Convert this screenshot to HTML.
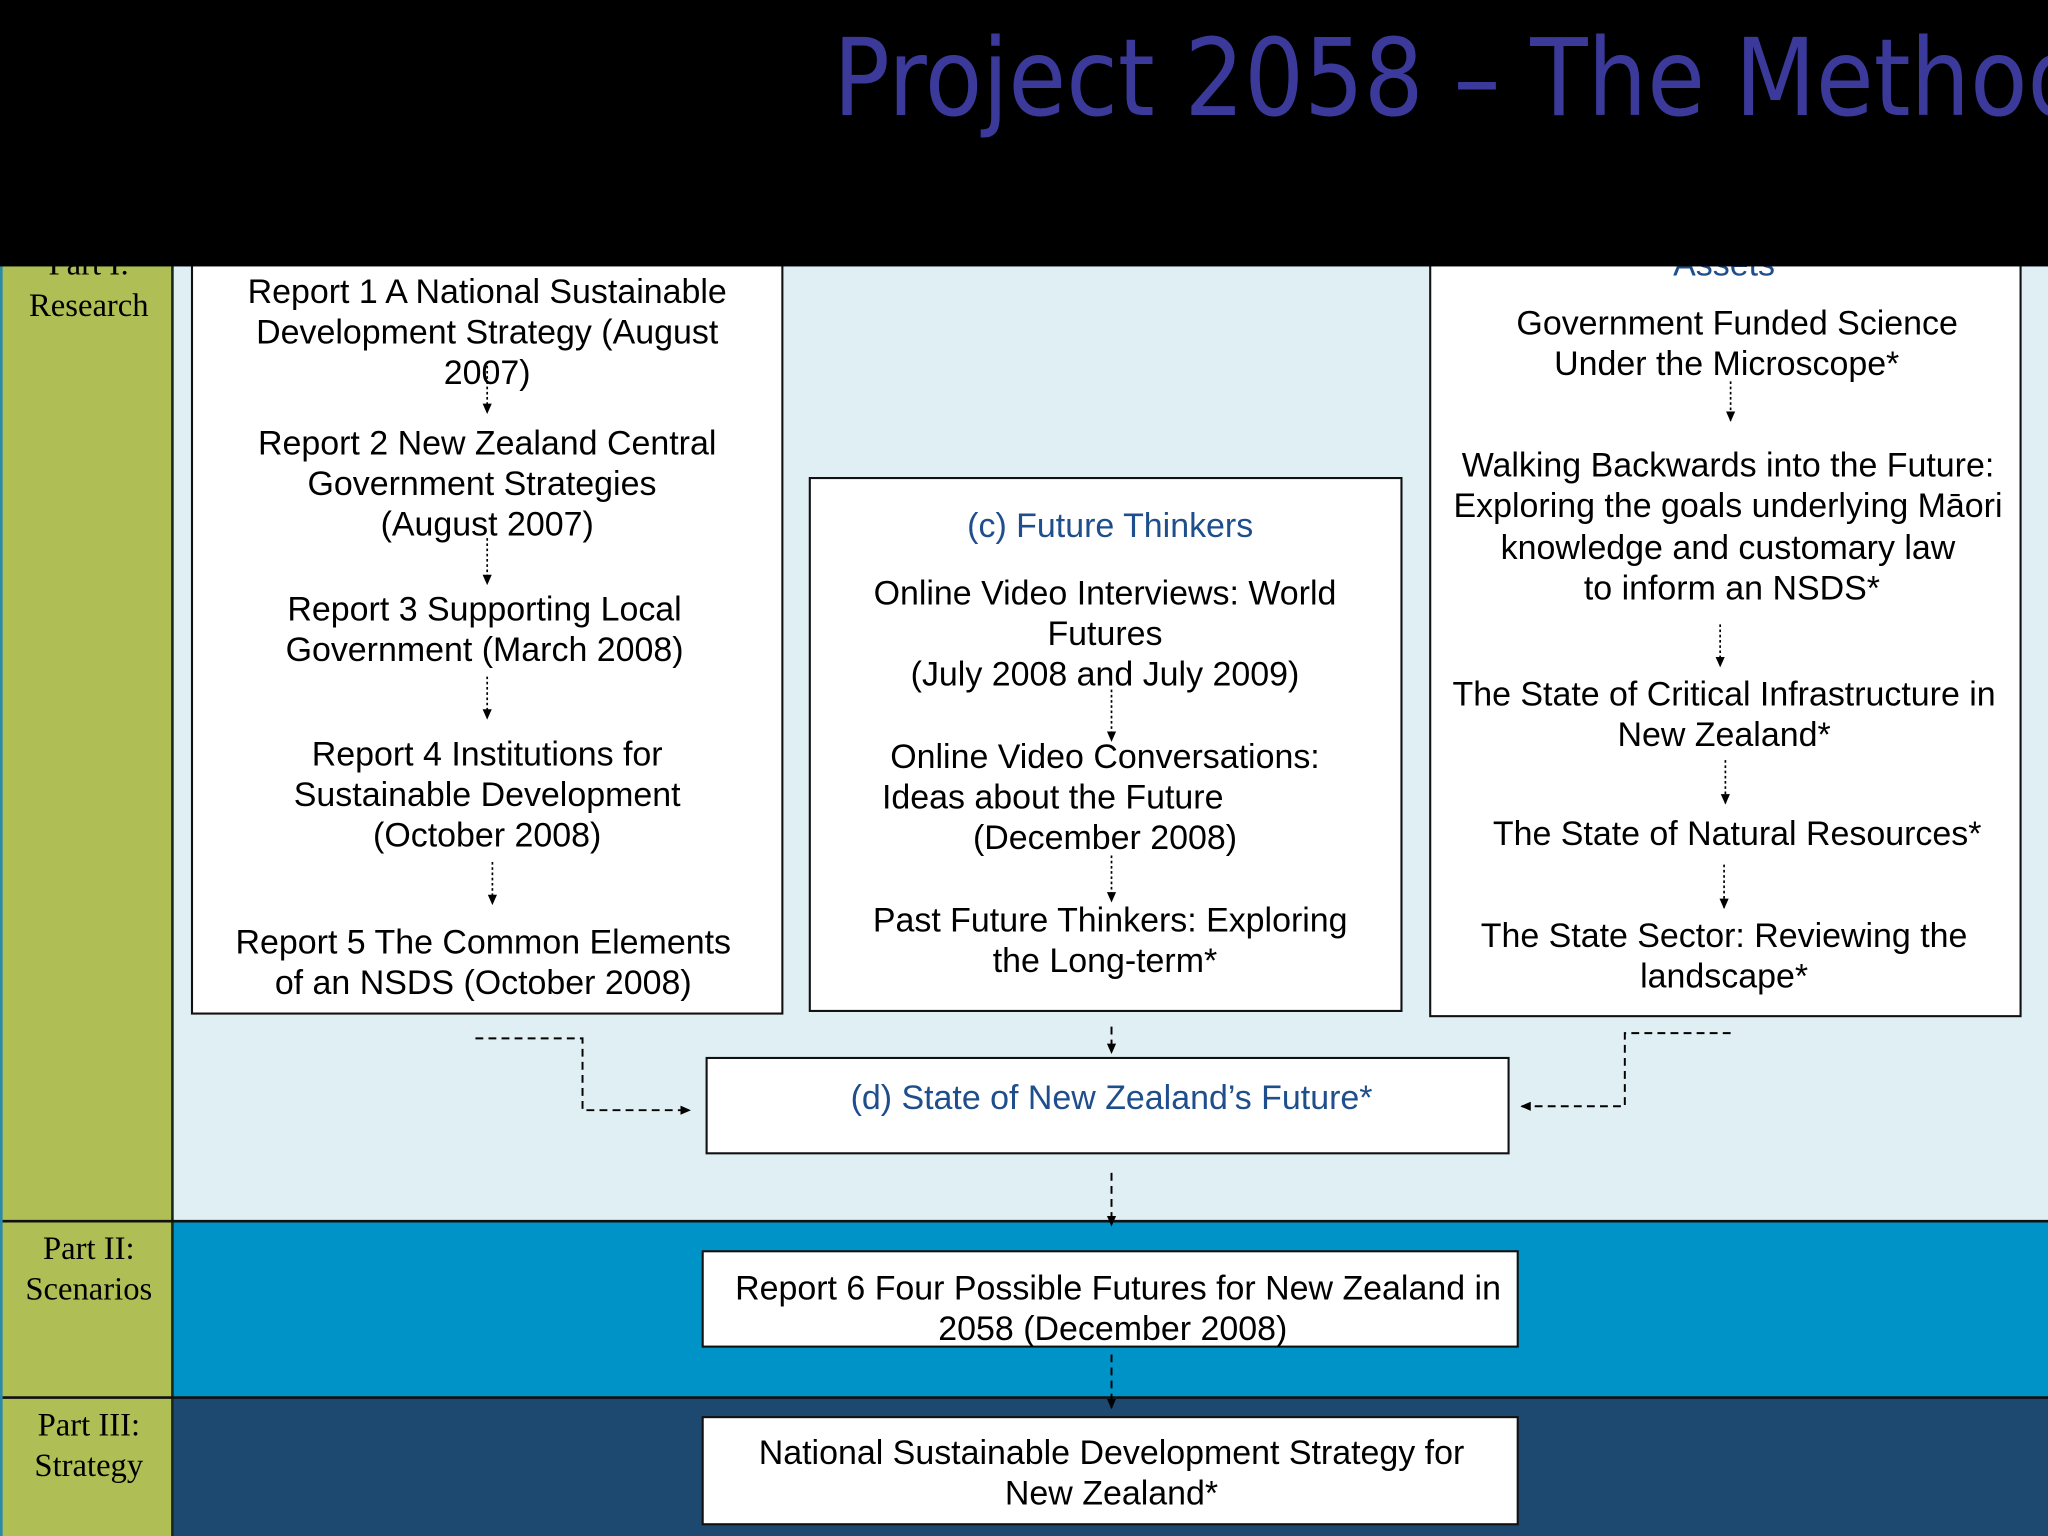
<!DOCTYPE html>
<html><head><meta charset="utf-8"><style>
html,body{margin:0;padding:0;background:#000;}
svg{display:block;}
.t{font-family:"Liberation Sans",sans-serif;font-size:26px;fill:#000;text-anchor:middle;}
.b{fill:#1f4e8c;}
.s{font-family:"Liberation Serif",serif;font-size:25px;fill:#000;text-anchor:middle;}
.box{fill:#fff;stroke:#111;stroke-width:1.6;}
.dot{stroke:#000;stroke-width:1.3;stroke-dasharray:2,2;fill:none;}
.dash{stroke:#000;stroke-width:1.5;stroke-dasharray:6,4;fill:none;}
</style></head><body>
<svg width="2048" height="1536" viewBox="0 0 1568 1176" xmlns="http://www.w3.org/2000/svg">
<defs><marker id="a" markerWidth="8" markerHeight="8" refX="7" refY="4" orient="auto" markerUnits="userSpaceOnUse"><path d="M0,0.5 L8,4 L0,7.5z" fill="#000"/></marker></defs>
<rect x="0" y="0" width="1568" height="1176" fill="#dfeff4"/>
<rect x="132" y="935" width="1436" height="135" fill="#0093c8"/>
<rect x="132" y="1070" width="1436" height="106" fill="#1d4870"/>
<rect x="0" y="180" width="132" height="996" fill="#b0bf55"/>
<line x1="132" y1="180" x2="132" y2="1176" stroke="#1a2a1a" stroke-width="2"/>
<line x1="0" y1="935" x2="1568" y2="935" stroke="#111" stroke-width="2"/>
<line x1="0" y1="1070" x2="1568" y2="1070" stroke="#111" stroke-width="2"/>
<line x1="1" y1="180" x2="1" y2="1176" stroke="#2a8aa8" stroke-width="2"/>

<rect class="box" x="147" y="190" width="452" height="586"/>
<rect class="box" x="620" y="366" width="453" height="408"/>
<rect class="box" x="1095" y="190" width="452" height="588"/>
<rect class="box" x="541" y="810" width="614" height="73"/>
<rect class="box" x="538" y="958" width="624" height="73"/>
<rect class="box" x="538" y="1085" width="624" height="82"/>

<text class="s" x="68" y="210">Part I:</text>
<text class="s" x="68" y="242">Research</text>
<text class="s" x="68" y="964">Part II:</text>
<text class="s" x="68" y="995">Scenarios</text>
<text class="s" x="68" y="1099">Part III:</text>
<text class="s" x="68" y="1130">Strategy</text>

<g class="t">
<text x="373" y="232">Report 1 A National Sustainable</text>
<text x="373" y="263">Development Strategy (August</text>
<text x="373" y="294">2007)</text>
<text x="373" y="348">Report 2 New Zealand Central</text>
<text x="369" y="379">Government Strategies</text>
<text x="373" y="410">(August 2007)</text>
<text x="371" y="475">Report 3 Supporting Local</text>
<text x="371" y="506">Government (March 2008)</text>
<text x="373" y="586">Report 4 Institutions for</text>
<text x="373" y="617">Sustainable Development</text>
<text x="373" y="648">(October 2008)</text>
<text x="370" y="730">Report 5 The Common Elements</text>
<text x="370" y="761">of an NSDS (October 2008)</text>

<text class="b" x="850" y="411">(c) Future Thinkers</text>
<text x="846" y="463">Online Video Interviews: World</text>
<text x="846" y="494">Futures</text>
<text x="846" y="525">(July 2008 and July 2009)</text>
<text x="846" y="588">Online Video Conversations:</text>
<text x="806" y="619">Ideas about the Future</text>
<text x="846" y="650">(December 2008)</text>
<text x="850" y="713">Past Future Thinkers: Exploring</text>
<text x="846" y="744">the Long-term*</text>

<text class="b" x="1320" y="211">Assets</text>
<text x="1330" y="256">Government Funded Science</text>
<text x="1322" y="287">Under the Microscope*</text>
<text x="1323" y="365">Walking Backwards into the Future:</text>
<text x="1323" y="396">Exploring the goals underlying Māori</text>
<text x="1323" y="428">knowledge and customary law</text>
<text x="1326" y="459">to inform an NSDS*</text>
<text x="1320" y="540">The State of Critical Infrastructure in</text>
<text x="1320" y="571">New Zealand*</text>
<text x="1330" y="647">The State of Natural Resources*</text>
<text x="1320" y="725">The State Sector: Reviewing  the</text>
<text x="1320" y="756">landscape*</text>

<text class="b" x="851" y="849">(d) State of New Zealand’s Future*</text>
<text x="856" y="995">Report 6 Four Possible Futures for New Zealand in</text>
<text x="852" y="1026">2058 (December 2008)</text>
<text x="851" y="1121">National Sustainable Development Strategy for</text>
<text x="851" y="1152">New Zealand*</text>
</g>

<g marker-end="url(#a)">
<path class="dot" d="M373 280 V316"/>
<path class="dot" d="M373 412 V447"/>
<path class="dot" d="M373 518 V550"/>
<path class="dot" d="M377 660 V692"/>
<path class="dot" d="M851 528 V567"/>
<path class="dot" d="M851 655 V690"/>
<path class="dot" d="M1325 292 V322"/>
<path class="dot" d="M1317 478 V510"/>
<path class="dot" d="M1321 582 V615"/>
<path class="dot" d="M1320 662 V695"/>
<path class="dash" d="M851 786 V806"/>
<path class="dash" d="M851 898 V938"/>
<path class="dash" d="M851 1037 V1078"/>
<path class="dash" d="M364 795 H446 V850 H528"/>
<path class="dash" d="M1325 791 H1244 V847 H1165"/>
</g>

<rect x="0" y="0" width="1568" height="204" fill="#000"/>
<text x="638" y="88" font-family="'DejaVu Sans','Liberation Sans',sans-serif" font-size="82" fill="#3b3a9a" textLength="960" lengthAdjust="spacingAndGlyphs">Project 2058 – The Method</text>
</svg>
</body></html>
